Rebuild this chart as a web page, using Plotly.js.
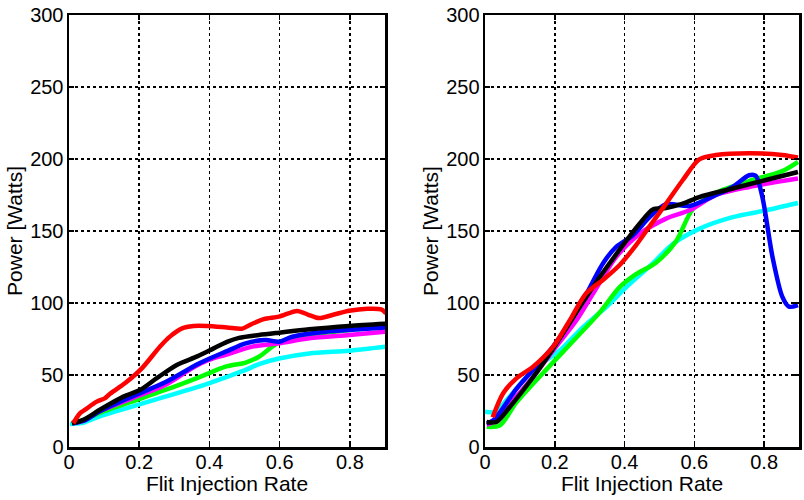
<!DOCTYPE html>
<html>
<head>
<meta charset="utf-8">
<script src="https://cdn.plot.ly/plotly-3.0.1.min.js"></script>
<style>html,body{margin:0;padding:0;background:#fff;}#chart{width:804px;height:500px;}</style>
</head>
<body>
<div id="chart"></div>
<script>
// ---- Left panel data ----
const L_red_x   = [0.012,0.031,0.046,0.079,0.103,0.117,0.16,0.208,0.26,0.289,0.322,0.355,0.393,0.45,0.494,0.517,0.555,0.598,0.65,0.68,0.712,0.755,0.798,0.85,0.889,0.903];
const L_red_y   = [16.5,23.4,25.9,31.5,34,37,44.4,54.8,70,77,82.4,84,84,83,82.2,85,88.8,90.5,94.5,92,89.5,92,94.6,96,95.6,92.8];
const L_blk_x   = [0.008,0.041,0.089,0.155,0.203,0.25,0.307,0.365,0.412,0.45,0.484,0.541,0.598,0.684,0.798,0.903];
const L_blk_y   = [16.5,18.8,26,35,39.7,47.8,57,62.9,68.5,73,75.8,77.8,79.4,81.7,84,85.6];
const L_blu_x   = [0.01,0.046,0.089,0.179,0.274,0.37,0.446,0.503,0.56,0.598,0.636,0.731,0.827,0.903];
const L_blu_y   = [16.5,18.7,25,35,45,58,66.2,72,74.3,73.1,76.6,80.1,81.7,83.1];
const L_mag_x   = [0.01,0.046,0.084,0.179,0.274,0.35,0.398,0.446,0.522,0.598,0.684,0.798,0.903];
const L_mag_y   = [16.5,18.7,24.5,33.8,43,54.6,60.4,64,69.7,72,75.5,77.8,80.1];
const L_grn_x   = [0.01,0.046,0.084,0.179,0.274,0.37,0.446,0.503,0.541,0.579,0.608,0.684,0.798,0.903];
const L_grn_y   = [16.5,19.2,23.4,31.5,39.6,48.4,55.8,58.6,62.7,69.7,73.8,77.8,81.3,83.6];
const L_cyn_x   = [0.003,0.036,0.084,0.179,0.274,0.37,0.446,0.503,0.541,0.598,0.684,0.798,0.903];
const L_cyn_y   = [16,16.6,21,28,35,41.9,48.4,53.5,57.6,61.5,65,66.9,69.7];

// ---- Right panel data ----
const R_red_x   = [0.022,0.052,0.09,0.138,0.195,0.243,0.29,0.338,0.386,0.433,0.471,0.519,0.567,0.614,0.662,0.757,0.852,0.897];
const R_red_y   = [20.6,37.3,47.7,55.8,69.7,88,106.7,116,126.4,140.2,153,169,185.4,199.7,202.8,204,202.8,201];
const R_blk_x   = [0.005,0.033,0.071,0.138,0.195,0.281,0.329,0.395,0.443,0.481,0.519,0.567,0.614,0.71,0.805,0.897];
const R_blk_y   = [17.4,17.4,27.8,48.6,68.3,100.7,118,140,155,165,166,169,173.6,179.5,185.4,191];
const R_blu_x   = [0.005,0.024,0.09,0.195,0.271,0.338,0.376,0.424,0.471,0.519,0.586,0.662,0.71,0.757,0.776,0.795,0.824,0.852,0.871,0.897];
const R_blu_y   = [16.5,18.5,40.4,69.7,97.5,127.5,139,147,159.4,168.6,167.4,175,180.6,188.7,188.3,173.6,132,104.4,97.5,98.6];
const R_mag_x   = [0.005,0.014,0.071,0.138,0.195,0.262,0.31,0.376,0.443,0.519,0.586,0.662,0.757,0.897];
const R_mag_y   = [15.5,16.2,30,48.6,67,88,106.7,132,148,158.6,164.4,175,180.6,186.4];
const R_grn_x   = [0.005,0.043,0.09,0.186,0.262,0.329,0.386,0.433,0.49,0.548,0.595,0.662,0.757,0.852,0.897];
const R_grn_y   = [14,15,31,56.5,76,93.5,111,120,128,143,165,176.6,184.7,191.6,198];
const R_cyn_x   = [0.0,0.03,0.062,0.138,0.214,0.281,0.348,0.405,0.481,0.538,0.614,0.71,0.805,0.897];
const R_cyn_y   = [24.5,24.5,32.6,53.5,67,83.3,97.3,111,127.5,141,151.5,159.6,164.3,169.4];

const xTicks = [0, 0.2, 0.4, 0.6, 0.8];
const xTickText = ['0', '0.2', '0.4', '0.6', '0.8'];
const yTicks = [0, 50, 100, 150, 200, 250, 300];
const yTickText = ['0', '50', '100', '150', '200', '250', '300'];

const colors = {red:'#ff0000', blk:'#000000', blu:'#0000ff', mag:'#ff00ff', grn:'#00ff00', cyn:'#00ffff'};

function tr(x, y, c, xa, ya) {
  return {x: x, y: y, type: 'scatter', mode: 'lines', xaxis: xa, yaxis: ya,
          line: {color: c, width: 4.5, shape: 'spline', smoothing: 0.8}, showlegend: false, hoverinfo: 'skip'};
}

const data = [
  tr(L_cyn_x, L_cyn_y, colors.cyn, 'x', 'y'),
  tr(L_grn_x, L_grn_y, colors.grn, 'x', 'y'),
  tr(L_mag_x, L_mag_y, colors.mag, 'x', 'y'),
  tr(L_blu_x, L_blu_y, colors.blu, 'x', 'y'),
  tr(L_blk_x, L_blk_y, colors.blk, 'x', 'y'),
  tr(L_red_x, L_red_y, colors.red, 'x', 'y'),
  tr(R_cyn_x, R_cyn_y, colors.cyn, 'x2', 'y2'),
  tr(R_grn_x, R_grn_y, colors.grn, 'x2', 'y2'),
  tr(R_mag_x, R_mag_y, colors.mag, 'x2', 'y2'),
  tr(R_blu_x, R_blu_y, colors.blu, 'x2', 'y2'),
  tr(R_blk_x, R_blk_y, colors.blk, 'x2', 'y2'),
  tr(R_red_x, R_red_y, colors.red, 'x2', 'y2')
];

const font = {family: 'Liberation Sans, Arial, sans-serif', size: 20, color: '#000'};

function xax(domain, anchor) {
  return {domain: domain, anchor: anchor, range: [0, 0.9], tickmode: 'array', tickvals: xTicks, ticktext: xTickText,
    showline: true, linecolor: '#000', linewidth: 2.5, mirror: 'ticks', ticks: 'inside', ticklen: 5, tickwidth: 1.5, tickcolor: '#000',
    showgrid: true, gridcolor: '#000', gridwidth: 1.5, griddash: 'dot', zeroline: false, tickfont: font,
    ticklabelstandoff: -5,
    title: {text: 'Flit Injection Rate', font: {family: font.family, size: 21, color: '#000'}, standoff: 0}, automargin: false};
}
function yax(domain, anchor) {
  return {domain: domain, anchor: anchor, range: [0, 300], tickmode: 'array', tickvals: yTicks, ticktext: yTickText,
    showline: true, linecolor: '#000', linewidth: 2.5, mirror: 'ticks', ticks: 'inside', ticklen: 5, tickwidth: 1.5, tickcolor: '#000',
    showgrid: true, gridcolor: '#000', gridwidth: 1.5, griddash: 'dot', zeroline: false, tickfont: font,
    ticklabelstandoff: -1,
    title: {text: 'Power [Watts]', font: {family: font.family, size: 21, color: '#000'}, standoff: 2}, automargin: false};
}

const layout = {
  width: 804, height: 500,
  margin: {l: 69, r: 5, t: 15, b: 53},
  paper_bgcolor: '#fff', plot_bgcolor: '#fff',
  font: font,
  xaxis: xax([0, 0.4329], 'y'),
  yaxis: yax([0, 1], 'x'),
  xaxis2: xax([0.5699, 1.0], 'y2'),
  yaxis2: yax([0, 1], 'x2'),
  showlegend: false
};

Plotly.newPlot('chart', data, layout, {staticPlot: true, displayModeBar: false});
</script>
</body>
</html>
